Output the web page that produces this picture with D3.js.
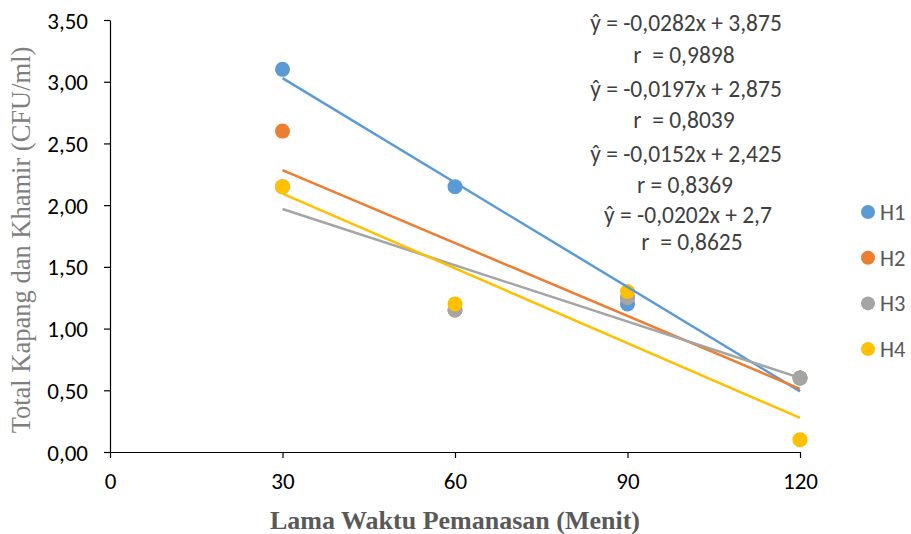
<!DOCTYPE html>
<html>
<head>
<meta charset="utf-8">
<script src="https://cdn.jsdelivr.net/npm/d3@7"></script>
<style>
  html, body { margin: 0; padding: 0; background: #fff; }
  svg { display: block; }
</style>
</head>
<body>
<svg id="chart" width="911" height="534"></svg>
<script>
// Heating time (minutes) and total mould & yeast counts per treatment
const times = [30, 60, 90, 120];
const seriesNames = ["H1", "H2", "H3", "H4"];
const h1 = [3.10, 2.15, 1.20, 0.60];
const h2 = [2.60, 1.15, 1.25, 0.60];
const h3 = [2.15, 1.15, 1.25, 0.60];
const h4 = [2.15, 1.20, 1.30, 0.10];
// Linear trend coefficients (slope, intercept) per series
const slopes = [-0.0282, -0.0197, -0.0152, -0.0202];
const intercepts = [3.875, 2.875, 2.425, 2.7];
const equationLabels = [
  "ŷ = -0,0282x + 3,875", "r  = 0,9898",
  "ŷ = -0,0197x + 2,875", "r  = 0,8039",
  "ŷ = -0,0152x + 2,425", "r = 0,8369",
  "ŷ = -0,0202x + 2,7", "r  = 0,8625"
];
const xTicks = [0, 30, 60, 90, 120];
const yTicks = [0, 0.5, 1, 1.5, 2, 2.5, 3, 3.5];
const colors = ["#5B9BD5", "#ED7D31", "#A5A5A5", "#FFC000"];

const values = [h1, h2, h3, h4];
const svg = d3.select("#chart");
const plot = { left: 110, right: 800, top: 20, bottom: 452 };

const x = d3.scaleLinear().domain([0, 120]).range([plot.left, plot.right]);
const y = d3.scaleLinear().domain([0, 3.5]).range([plot.bottom, plot.top]);

const fmt = d => d3.format(".2f")(d).replace(".", ",");
const sansFont = "Carlito, Lato, 'Open Sans', sans-serif";
const serifFont = "'Liberation Serif', 'Times New Roman', serif";

// Axes
const yAxis = svg.append("g")
  .attr("transform", `translate(${plot.left},0)`)
  .call(d3.axisLeft(y).tickValues(yTicks).tickFormat(fmt).tickSize(6).tickSizeOuter(0));
const xAxis = svg.append("g")
  .attr("transform", `translate(0,${plot.bottom})`)
  .call(d3.axisBottom(x).tickValues(xTicks).tickFormat(d3.format("d")).tickSize(6).tickSizeOuter(0));

[yAxis, xAxis].forEach(a => {
  a.select(".domain").attr("stroke", "#000").attr("stroke-width", 1.2);
  a.selectAll(".tick line").attr("stroke", "#000").attr("stroke-width", 1.2);
  a.selectAll(".tick text")
    .attr("font-family", sansFont)
    .attr("font-size", 23)
    .attr("fill", "#000");
});
yAxis.selectAll(".tick text").attr("x", -22).attr("dy", "0.35em");
xAxis.selectAll(".tick text").attr("y", 21).attr("dy", "0.71em");

// Axis titles
svg.append("text")
  .attr("transform", `translate(30,${(plot.top + plot.bottom) / 2 + 4}) rotate(-90)`)
  .attr("text-anchor", "middle")
  .attr("font-family", serifFont)
  .attr("font-size", 26.5)
  .attr("fill", "#7F7F7F")
  .text("Total Kapang dan Khamir (CFU/ml)");

svg.append("text")
  .attr("x", 455)
  .attr("y", 529)
  .attr("text-anchor", "middle")
  .attr("font-family", serifFont)
  .attr("font-weight", "bold")
  .attr("font-size", 26)
  .attr("fill", "#595959")
  .text("Lama Waktu Pemanasan (Menit)");

// Scatter markers
seriesNames.forEach((name, i) => {
  svg.append("g")
    .selectAll("circle")
    .data(times.map((t, j) => ({ t, v: values[i][j] })))
    .join("circle")
    .attr("cx", d => x(d.t))
    .attr("cy", d => y(d.v))
    .attr("r", 7.5)
    .attr("fill", colors[i]);
});

// Linear trend lines over the measured range
seriesNames.forEach((name, i) => {
  const x0 = times[0], x1 = times[times.length - 1];
  svg.append("line")
    .attr("x1", x(x0)).attr("y1", y(slopes[i] * x0 + intercepts[i]))
    .attr("x2", x(x1)).attr("y2", y(slopes[i] * x1 + intercepts[i]))
    .attr("stroke", colors[i])
    .attr("stroke-width", 2.5);
});

// Regression equations
const eqCenters = [686, 684, 686, 684, 686, 685, 688, 692];
const eqYs = [23, 55, 89, 120, 154, 185, 215, 242];
svg.append("g")
  .selectAll("text")
  .data(equationLabels)
  .join("text")
  .attr("x", (d, i) => eqCenters[i])
  .attr("y", (d, i) => eqYs[i])
  .attr("dy", "0.35em")
  .attr("text-anchor", "middle")
  .attr("font-family", sansFont)
  .attr("font-size", 23.5)
  .attr("fill", "#404040")
  .style("white-space", "pre")
  .text(d => d);

// Legend
const legend = svg.append("g")
  .selectAll("g")
  .data(seriesNames)
  .join("g")
  .attr("transform", (d, i) => `translate(868,${212 + i * 45.7})`);
legend.append("circle").attr("r", 7).attr("fill", (d, i) => colors[i]);
legend.append("text")
  .attr("x", 12)
  .attr("dy", "0.35em")
  .attr("font-family", sansFont)
  .attr("font-size", 22.5)
  .attr("fill", "#595959")
  .text(d => d);
</script>
</body>
</html>
